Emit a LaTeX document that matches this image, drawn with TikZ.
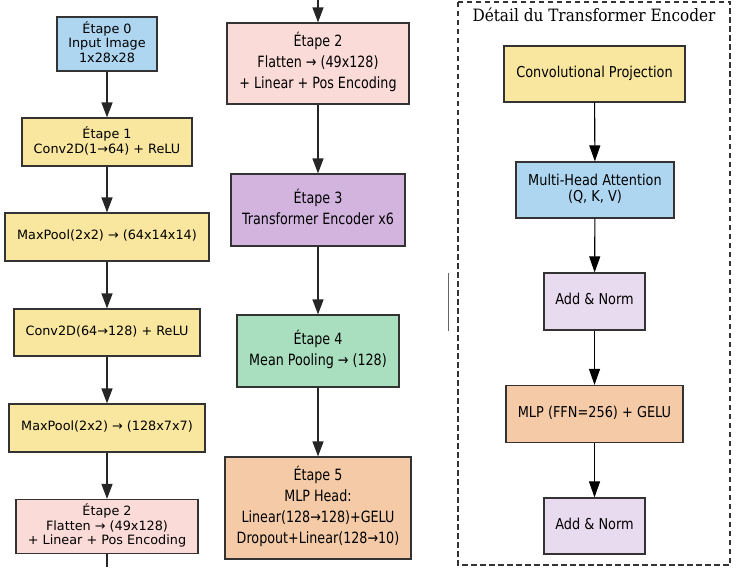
\documentclass[tikz,border=0pt]{standalone}
\usepackage{fontspec}
\usepackage{graphicx}
\setmainfont{DejaVu Sans}
\newfontfamily\titleserif{DejaVu Serif}
\usetikzlibrary{arrows.meta}
\definecolor{cblue}{HTML}{AED6F1}
\definecolor{cyellow}{HTML}{F9E79F}
\definecolor{cpink}{HTML}{FADBD8}
\definecolor{cpurple}{HTML}{D2B4DE}
\definecolor{cgreen}{HTML}{A9DFBF}
\definecolor{corange}{HTML}{F5CBA7}
\definecolor{clav}{HTML}{E8DAEF}
\definecolor{cedge}{HTML}{333333}
\newcommand\lefttxt[1]{{\fontsize{12.8}{14.5}\selectfont\begin{tabular}{@{}c@{}}#1\end{tabular}}}
\newcommand\midtxt[1]{\scalebox{0.82}[1]{\fontsize{15.5}{21}\selectfont\begin{tabular}{@{}c@{}}#1\end{tabular}}}
\newcommand\righttxt[1]{\scalebox{0.86}[1]{\fontsize{15}{16.5}\selectfont\begin{tabular}{@{}c@{}}#1\end{tabular}}}
\tikzset{
  box/.style={draw=cedge, line width=1.2pt, inner sep=0pt, align=center},
  flow/.style={draw=black!85, line width=1.4pt, -{Triangle[width=11pt,length=15pt]}},
  flowthin/.style={draw=black, line width=1.1pt, -{Triangle[width=11pt,length=16pt]}},
  plainline/.style={draw=black!85, line width=1.4pt},
}
\begin{document}
\begin{tikzpicture}[x=1pt,y=-1pt]
\useasboundingbox (0,0) rectangle (738,567);
% left column
\node[box, fill=cblue, minimum width=100pt, minimum height=54pt] (e0) at (107,44) {\lefttxt{Étape 0\\Input Image\\1x28x28}};
\node[box, fill=cyellow, minimum width=170pt, minimum height=48pt] (e1) at (107,142) {\lefttxt{Étape 1\\Conv2D(1→64) + ReLU}};
\node[box, fill=cyellow, minimum width=204pt, minimum height=48pt] (mp1) at (107,237) {\lefttxt{MaxPool(2x2) → (64x14x14)}};
\node[box, fill=cyellow, minimum width=186pt, minimum height=47pt] (c2) at (107,332.5) {\lefttxt{Conv2D(64→128) + ReLU}};
\node[box, fill=cyellow, minimum width=196pt, minimum height=48pt] (mp2) at (107,428) {\lefttxt{MaxPool(2x2) → (128x7x7)}};
\node[box, fill=cpink, minimum width=182pt, minimum height=54pt] (e2l) at (107,526.5) {\lefttxt{Étape 2\\Flatten → (49x128)\\+ Linear + Pos Encoding}};
\coordinate (leftout) at (107,567);
% middle column
\coordinate (midin) at (318,0);
\node[box, fill=cpink, minimum width=182pt, minimum height=81pt] (e2m) at (318,63.5) {\midtxt{Étape 2\\Flatten → (49x128)\\+ Linear + Pos Encoding}};
\node[box, fill=cpurple, minimum width=174pt, minimum height=72pt] (e3) at (318,210) {\midtxt{Étape 3\\Transformer Encoder x6}};
\node[box, fill=cgreen, minimum width=162pt, minimum height=72pt] (e4) at (318,351) {\midtxt{Étape 4\\Mean Pooling → (128)}};
\node[box, fill=corange, minimum width=186pt, minimum height=102pt] (e5) at (318,508) {\midtxt{Étape 5\\MLP Head:\\Linear(128→128)+GELU\\Dropout+Linear(128→10)}};
% right panel
\draw[cedge, line width=1.3pt, dash pattern=on 5.5pt off 3.5pt] (458,2) rectangle (730,565);
\node[font=\titleserif\fontsize{17}{20}\selectfont] (title) at (594,15) {\scalebox{0.9}[1]{Détail du Transformer Encoder}};
\node[box, fill=cyellow, minimum width=181pt, minimum height=56pt] (cp) at (594.5,74) {\righttxt{Convolutional Projection}};
\node[box, fill=cblue, minimum width=158pt, minimum height=56pt] (mha) at (595,190) {\righttxt{Multi-Head Attention\\(Q, K, V)}};
\node[box, fill=clav, minimum width=101pt, minimum height=57pt] (an1) at (594.5,301.5) {\righttxt{Add \& Norm}};
\node[box, fill=corange, minimum width=177pt, minimum height=57pt] (mlp) at (594.5,414) {\righttxt{MLP (FFN=256) + GELU}};
\node[box, fill=clav, minimum width=101pt, minimum height=56pt] (an2) at (594.5,526) {\righttxt{Add \& Norm}};
% thin separator
\draw[black!60, line width=0.8pt] (448,273) -- (448,331);
% arrows
\draw[flow] (e0) -- (e1);
\draw[flow] (e1) -- (mp1);
\draw[flow] (mp1) -- (c2);
\draw[flow] (c2) -- (mp2);
\draw[flow] (mp2) -- (e2l);
\draw[plainline] (e2l) -- (leftout);
\draw[flow] (midin) -- (e2m);
\draw[flow] (e2m) -- (e3);
\draw[flow] (e3) -- (e4);
\draw[flow] (e4) -- (e5);
\draw[flowthin] (cp) -- (mha);
\draw[flowthin] (mha) -- (an1);
\draw[flowthin] (an1) -- (mlp);
\draw[flowthin] (mlp) -- (an2);
\end{tikzpicture}
\end{document}
